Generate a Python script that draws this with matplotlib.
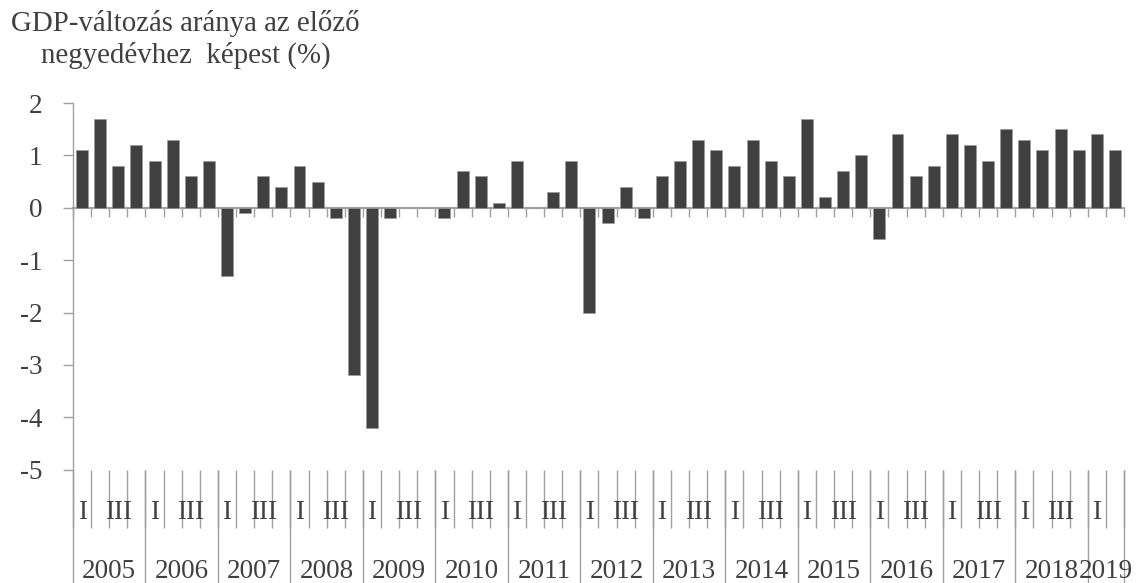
import matplotlib
matplotlib.use('Agg')
import matplotlib.pyplot as plt
import numpy as np

# negyedéves GDP-változás, 2005 Q1 - 2019 Q2
years = [str(y) for y in range(2005, 2020)]
quarters = ['I', 'II', 'III', 'IV']
gdp_change = [
    1.1, 1.7, 0.8, 1.2,    # 2005
    0.9, 1.3, 0.6, 0.9,    # 2006
    -1.3, -0.1, 0.6, 0.4,  # 2007
    0.8, 0.5, -0.2, -3.2,  # 2008
    -4.2, -0.2, 0.0, 0.0,  # 2009
    -0.2, 0.7, 0.6, 0.1,   # 2010
    0.9, 0.0, 0.3, 0.9,    # 2011
    -2.0, -0.3, 0.4, -0.2, # 2012
    0.6, 0.9, 1.3, 1.1,    # 2013
    0.8, 1.3, 0.9, 0.6,    # 2014
    1.7, 0.2, 0.7, 1.0,    # 2015
    -0.6, 1.4, 0.6, 0.8,   # 2016
    1.4, 1.2, 0.9, 1.5,    # 2017
    1.3, 1.1, 1.5, 1.1,    # 2018
    1.4, 1.1,              # 2019
]
shown_quarters = ['I', 'III']
title_lines = ['GDP-változás aránya az előző', 'negyedévhez  képest (%)']

plt.rcParams['font.family'] = ['Liberation Serif', 'DejaVu Serif']
plt.rcParams['axes.unicode_minus'] = False
txt = '#404040'
grey = '#a0a0a0'
fs = 19.5

fig = plt.figure(figsize=(11.4, 5.83), dpi=100)
ax = fig.add_axes([73 / 1140, (583 - 469.7) / 583, (1124 - 73) / 1140, (469.7 - 103) / 583])

n = len(gdp_change)
x = np.arange(n)
ax.bar(x, gdp_change, width=0.66, color='#404040', edgecolor='#9a9a9a', linewidth=0.5, zorder=3)

ax.set_xlim(-0.5, n - 0.5)
ax.set_ylim(-5, 2)
ax.set_yticks(range(-5, 3))
ax.tick_params(axis='y', direction='out', length=7.2, width=1, color=grey,
               labelsize=fs, labelcolor=txt, pad=15)

for s in ['top', 'right']:
    ax.spines[s].set_visible(False)
ax.spines['left'].set_color(grey)
ax.spines['left'].set_linewidth(1)
ax.spines['bottom'].set_position(('data', 0))
ax.spines['bottom'].set_color(grey)
ax.spines['bottom'].set_linewidth(1.5)
ax.set_xticks(np.arange(n + 1) - 0.5)
ax.set_xticklabels([])
ax.tick_params(axis='x', direction='out', length=6.5, width=1, color=grey)

# kategória tengely lent: negyedévek és évek
tr = ax.get_xaxis_transform()
bounds = np.arange(n + 1) - 0.5
ax.vlines(bounds, -0.158, 0, transform=tr, clip_on=False, color=grey, lw=1)
year_bounds = list(np.arange(0, n, 4) - 0.5) + [n - 0.5]
ax.vlines(year_bounds, -0.31, 0, transform=tr, clip_on=False, color=grey, lw=1)

for i in range(n):
    q = quarters[i % 4]
    if q in shown_quarters:
        ax.text(i, -0.1344, q, transform=tr, ha='center', va='baseline',
                fontsize=fs, color=txt)

for k, y in enumerate(years):
    first = k * 4
    last = min(first + 3, n - 1)
    ax.text((first + last) / 2, -0.2953, y, transform=tr, ha='center', va='baseline',
            fontsize=fs, color=txt)

fig.text(185 / 1140, 1 - 31 / 583, title_lines[0], ha='center', va='baseline', fontsize=20.8, color=txt)
fig.text(186 / 1140, 1 - 63 / 583, title_lines[1], ha='center', va='baseline', fontsize=20.8, color=txt)

fig.savefig('out.png', dpi=100)
